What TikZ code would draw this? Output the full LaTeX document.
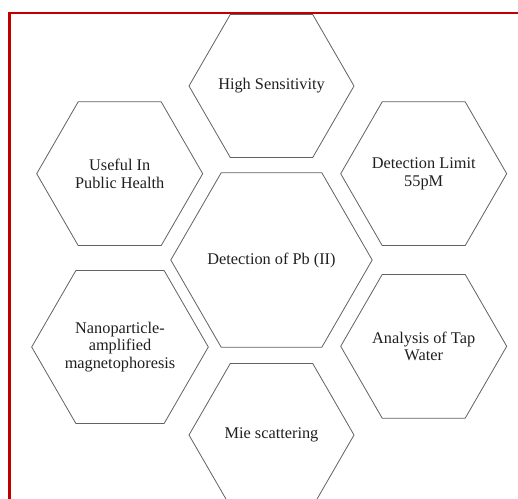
\documentclass[tikz,border=0pt]{standalone}
\usepackage{fontspec}
\setmainfont{Liberation Serif}
\begin{document}
\begin{tikzpicture}[x=1bp,y=-1bp,
  hexline/.style={draw=black!62, line width=0.8bp, line join=miter},
  hexlabel/.style={align=center, font=\fontsize{16.3bp}{17.5bp}\selectfont, inner sep=0pt, text=black!88},
  redrule/.style={draw={rgb,255:red,192;green,0;blue,0}, line width=2.6bp, line join=miter}]
\useasboundingbox (0,0) rectangle (518,499);
\newcommand\hexcell[5]{%
  \node[hexlabel] (#1) at (#2,#3) {#5};
  \draw[hexline, shift={(#2,#3)}] (0:#4) -- (60:#4) -- (120:#4) -- (180:#4) -- (240:#4) -- (300:#4) -- cycle;
}
\hexcell{top}{271.5}{86}{82.5}{High Sensitivity}
\hexcell{useful}{119.7}{173.7}{83}{Useful In\\Public Health}
\hexcell{limit}{423.7}{173.7}{83}{Detection Limit\\55pM}
\hexcell{center}{271.5}{260}{100.7}{Detection of Pb (II)}
\hexcell{nano}{120}{347}{88.3}{Nanoparticle-\\amplified\\magnetophoresis}
\hexcell{tap}{423.7}{346.3}{83}{Analysis of Tap\\Water}
\hexcell{mie}{271.5}{435}{82.5}{Mie scattering}
\coordinate (cornerTL) at (9.3,13);
\coordinate (topR) at (518,13);
\coordinate (leftB) at (9.3,499);
\draw[redrule] (topR) -- (cornerTL) -- (leftB);
\end{tikzpicture}
\end{document}
